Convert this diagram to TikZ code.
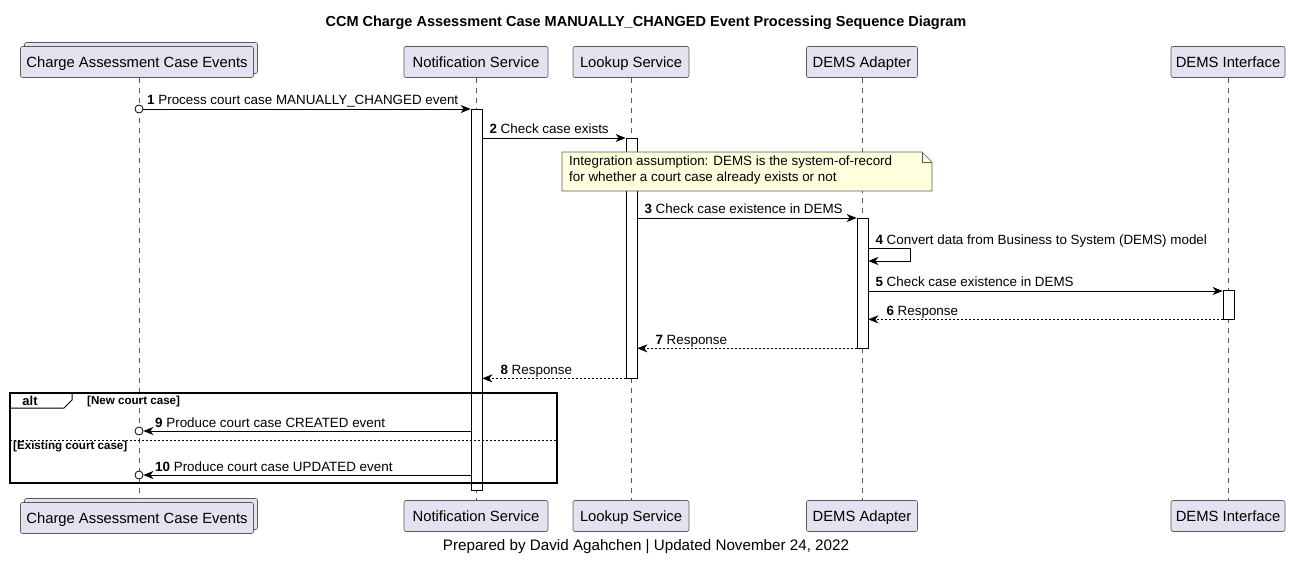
\documentclass[tikz,border=0pt]{standalone}
\usepackage{fontspec}
\setmainfont{Liberation Sans}
\usetikzlibrary{arrows.meta,calc,backgrounds}

\definecolor{partfill}{HTML}{E2E2F0}
\definecolor{partline}{HTML}{5A5A5A}
\definecolor{notefill}{HTML}{FEFFDD}

\tikzset{
  part/.style={draw=partline, fill=partfill, line width=0.6pt, rounded corners=2pt,
    minimum height=31pt, inner sep=0pt, text height=12pt, text depth=1.5pt,
    font=\fontsize{14.8}{17}\selectfont},
  life/.style={draw=gray!70!black, line width=0.5pt, dash pattern=on 5pt off 5pt},
  act/.style={draw, fill=white, line width=0.7pt, minimum width=11pt, inner sep=0pt},
  msg/.style={-{Stealth[length=10pt,width=8pt,inset=3pt]}, line width=0.8pt},
  reply/.style={msg, dash pattern=on 2pt off 2pt},
  lbl/.style={anchor=base west, inner sep=0pt, font=\fontsize{13.4}{16}\selectfont},
  cond/.style={anchor=west, inner sep=0pt, font=\bfseries\fontsize{11.6}{13}\selectfont},
  lost/.style={draw, fill=white, circle, inner sep=0pt, minimum size=8pt, line width=0.8pt},
}

\begin{document}
\begin{tikzpicture}[x=1pt, y=-1pt]
\useasboundingbox (0,0) rectangle (1292,561);

\node[font=\bfseries\fontsize{14.5}{17}\selectfont] (title) at (646,23)
  {CCM Charge Assessment Case MANUALLY\_CHANGED Event Processing Sequence Diagram};

% participants, top and bottom
\node[part, minimum width=233pt] (cBack) at (141,58) {};
\node[part, minimum width=233pt] (cTop) at (137,62) {Charge Assessment Case Events};
\node[part, minimum width=144pt] (nTop) at (476,62) {Notification Service};
\node[part, minimum width=116pt] (lTop) at (631,62) {Lookup Service};
\node[part, minimum width=111pt] (aTop) at (862,62) {DEMS Adapter};
\node[part, minimum width=114pt] (iTop) at (1228,62) {DEMS Interface};

\node[part, minimum width=233pt] (cBackB) at (141,514) {};
\node[part, minimum width=233pt] (cBot) at (137,518) {Charge Assessment Case Events};
\node[part, minimum width=144pt] (nBot) at (476,516) {Notification Service};
\node[part, minimum width=116pt] (lBot) at (631,516) {Lookup Service};
\node[part, minimum width=111pt] (aBot) at (862,516) {DEMS Adapter};
\node[part, minimum width=114pt] (iBot) at (1228,516) {DEMS Interface};

\begin{scope}[on background layer]
\draw[life] (cTop.south -| 139,0) -- (cBackB.north -| 139,0);
\draw[life] (nTop) -- (nBot);
\draw[life] (lTop) -- (lBot);
\draw[life] (aTop) -- (aBot);
\draw[life] (iTop) -- (iBot);
\end{scope}

% activations
\node[act, minimum height=381pt] (actN) at (476.5,299.5) {};
\node[act, minimum height=240pt] (actL) at (631.5,258) {};
\node[act, minimum height=130pt] (actA) at (862.5,283) {};
\node[act, minimum height=29pt]  (actI) at (1228.5,304.5) {};

% note
\draw[draw=partline, fill=notefill, line width=0.6pt]
  (562,152) -- (922,152) -- (932,162) -- (932,191) -- (562,191) -- cycle;
\draw[draw=partline, line width=0.6pt] (922,152) -- (922,162) -- (932,162);
\node[anchor=north west, align=left, inner sep=0pt, font=\fontsize{13.4}{16}\selectfont] (note) at (569,156)
  {Integration assumption: DEMS is the system-of-record\\for whether a court case already exists or not};

% messages
\node[lost] (o1) at (139,109) {};
\draw[msg] (o1) -- (actN.west |- o1);
\node[lbl] at ($(o1)+(8,-4)$) {\textbf{1} Process court case MANUALLY\_CHANGED event};

\coordinate (m2) at (0,138);
\draw[msg] (actN.east |- m2) -- (actL.west |- m2);
\node[lbl] at ($(actN.east |- m2)+(7,-4)$) {\textbf{2} Check case exists};

\coordinate (m3) at (0,218);
\draw[msg] (actL.east |- m3) -- (actA.west |- m3);
\node[lbl] at ($(actL.east |- m3)+(7,-4)$) {\textbf{3} Check case existence in DEMS};

\coordinate (m4) at (910,248);
\draw[msg] (actA.east |- m4) -- (m4) -- ++(0,13) -- (actA.east |- 0,261);
\node[lbl] at ($(actA.east |- 0,244)+(7,0)$) {\textbf{4} Convert data from Business to System (DEMS) model};

\coordinate (m5) at (0,291);
\draw[msg] (actA.east |- m5) -- (actI.west |- m5);
\node[lbl] at ($(actA.east |- m5)+(7,-4)$) {\textbf{5} Check case existence in DEMS};

\draw[reply] (actI.south west) -- (actA.east |- actI.south);
\node[lbl] at ($(actA.east |- actI.south)+(18,-4)$) {\textbf{6} Response};

\draw[reply] (actA.south west) -- (actL.east |- actA.south);
\node[lbl] at ($(actL.east |- actA.south)+(18,-4)$) {\textbf{7} Response};

\draw[reply] (actL.south west) -- (actN.east |- actL.south);
\node[lbl] at ($(actN.east |- actL.south)+(18,-4)$) {\textbf{8} Response};

% alt fragment
\draw[line width=1.5pt] (10,393) rectangle (557,483);
\draw[line width=1pt] (10,408) -- (64,408) -- (72,400) -- (72,393);
\node[font=\bfseries\fontsize{13}{15}\selectfont, inner sep=0pt] (alt) at (30,401) {alt};
\node[cond] at (87,401) {[New court case]};
\draw[line width=0.6pt, dash pattern=on 2pt off 2pt] (10,440) -- (557,440);
\node[cond] at (13,447) {[Existing court case]};

\node[lost] (o9) at (139,431) {};
\draw[msg] (actN.west |- o9) -- (o9);
\node[lbl] at ($(o9)+(16,-4)$) {\textbf{9} Produce court case CREATED event};

\node[lost] (o10) at (139,475) {};
\draw[msg] (actN.west |- o10) -- (o10);
\node[lbl] at ($(o10)+(16,-4)$) {\textbf{10} Produce court case UPDATED event};

\node[font=\fontsize{15.2}{17}\selectfont] (foot) at (646,547)
  {Prepared by David Agahchen | Updated November 24, 2022};
\end{tikzpicture}
\end{document}
